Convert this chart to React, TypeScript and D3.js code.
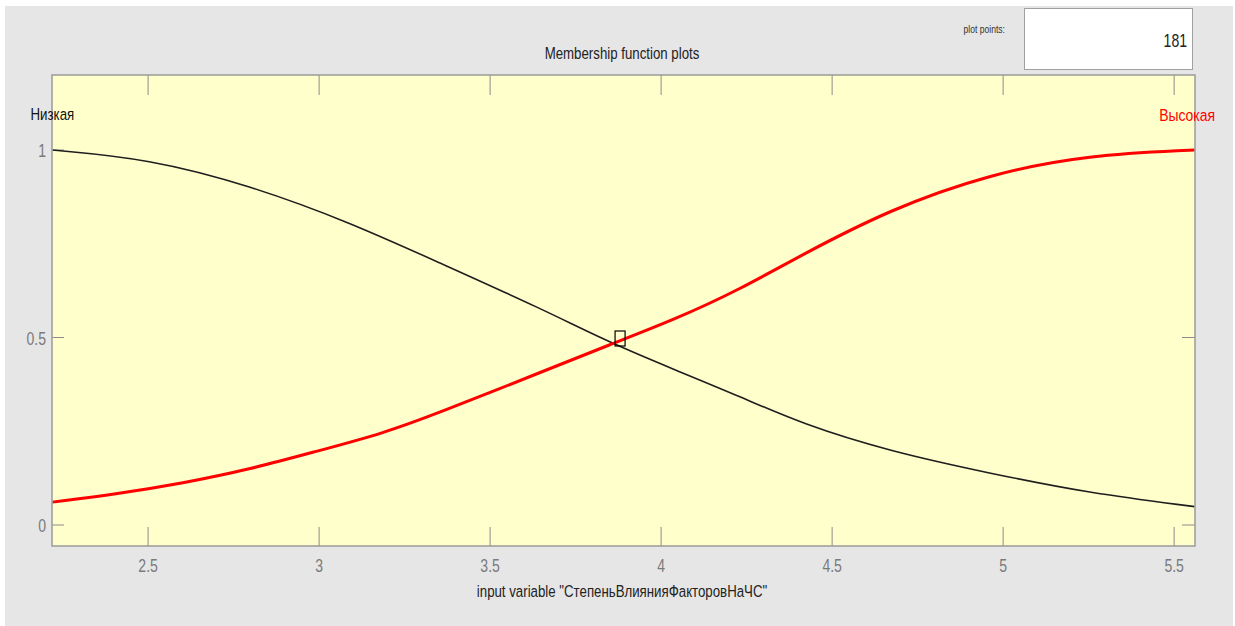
import * as d3 from 'd3';

// membership degrees, one x list per curve
const xLow = [2.22, 2.5, 2.8, 3.09, 3.35, 3.65, 3.85, 4.04, 4.23, 4.41, 4.67, 4.96, 5.25, 5.56];
const lowValues = [1.0, 0.977, 0.905, 0.807, 0.70, 0.577, 0.486, 0.414, 0.343, 0.27, 0.196, 0.138, 0.085, 0.049];
const xHigh = [2.22, 2.41, 2.6, 2.8, 2.99, 3.19, 3.35, 3.65, 3.85, 4.04, 4.23, 4.41, 4.67, 4.96, 5.25, 5.56];
const highValues = [0.061, 0.083, 0.111, 0.149, 0.196, 0.245, 0.299, 0.408, 0.481, 0.548, 0.628, 0.72, 0.842, 0.936, 0.987, 1.0];

const xTicks = [2.5, 3, 3.5, 4, 4.5, 5, 5.5];
const yTicks = [0, 0.5, 1];
const xDomain = [2.219, 5.561];
const yDomain = [-0.056, 1.2];

const mfNames = ['Низкая', 'Высокая'];
const crossPoint = { x: 3.88, y: 0.5 };
const plotPoints = '181';
const varName = 'СтепеньВлиянияФакторовНаЧС';

const W = 1235;
const H = 626;
const FONT = '"Liberation Sans", Arial, sans-serif';

// MATLAB's condensed Helvetica look: squeeze Liberation Sans horizontally
function NText({ x, y, size, anchor = 'start', fill = '#222', sx = 0.78, children }: any) {
    return (
        <text
            transform={`translate(${x},${y}) scale(${sx},1)`}
            fontSize={size}
            textAnchor={anchor}
            fill={fill}
        >
            {children}
        </text>
    );
}

export default function App() {
    const plot = { left: 52, top: 75, right: 1195, bottom: 546 };

    const x = d3.scaleLinear().domain(xDomain).range([plot.left, plot.right]);
    const y = d3.scaleLinear().domain(yDomain).range([plot.bottom, plot.top]);

    const lineFor = (xs: number[]) => d3.line<number>()
        .x((_, i) => x(xs[i]))
        .y(d => y(d))
        .curve(d3.curveBasis);

    const tickColor = '#8c8c8c';
    const labelColor = '#7a7a7a';

    return (
        <svg
            width={W}
            height={H}
            style={{ position: 'absolute', left: 0, top: 0, display: 'block' }}
            fontFamily={FONT}
        >
            <rect x={0} y={0} width={W} height={H} fill="#ffffff" />
            <rect x={5} y={6} width={1228} height={H - 6} fill="#e6e6e6" />

            {/* plot points box */}
            <NText x={1005} y={33} size={11} anchor="end" fill="#333">plot points:</NText>
            <rect x={1024.5} y={8.5} width={168} height={61} fill="#ffffff" stroke="#a0a0a0" strokeWidth={1} />
            <NText x={1187} y={47} size={18} anchor="end" fill="#222">{plotPoints}</NText>

            {/* title */}
            <NText x={622} y={59} size={17} anchor="middle" fill="#222">Membership function plots</NText>

            {/* axes background */}
            <rect
                x={plot.left}
                y={plot.top}
                width={plot.right - plot.left}
                height={plot.bottom - plot.top}
                fill="#ffffcc"
            />

            {/* ticks */}
            {xTicks.map(t => (
                <g key={'x' + t}>
                    <line x1={x(t)} x2={x(t)} y1={plot.bottom} y2={plot.bottom - 19} stroke={tickColor} strokeWidth={1} />
                    <line x1={x(t)} x2={x(t)} y1={plot.top} y2={plot.top + 20} stroke={tickColor} strokeWidth={1} />
                    <NText x={x(t)} y={572} size={18} anchor="middle" fill={labelColor}>{t}</NText>
                </g>
            ))}
            {yTicks.map(t => (
                <g key={'y' + t}>
                    <line x1={plot.left} x2={plot.left + 12} y1={y(t)} y2={y(t)} stroke={tickColor} strokeWidth={1} />
                    <line x1={plot.right - 13} x2={plot.right} y1={y(t)} y2={y(t)} stroke={tickColor} strokeWidth={1} />
                    <NText x={46} y={y(t) + 7} size={18} anchor="end" fill={labelColor}>{t}</NText>
                </g>
            ))}

            {/* membership functions */}
            <path d={lineFor(xLow)(lowValues) || ''} fill="none" stroke="#1e1e1e" strokeWidth={1.6} />
            <path d={lineFor(xHigh)(highValues) || ''} fill="none" stroke="#ff0000" strokeWidth={3} />

            <rect
                x={x(crossPoint.x) - 5}
                y={y(crossPoint.y) - 6.5}
                width={10}
                height={15}
                fill="none"
                stroke="#000"
                strokeWidth={1.2}
            />

            {/* axes frame */}
            <rect
                x={plot.left}
                y={plot.top}
                width={plot.right - plot.left}
                height={plot.bottom - plot.top}
                fill="none"
                stroke="#9a9a9a"
                strokeWidth={1.5}
            />

            {/* MF labels */}
            <NText x={x(xLow[0])} y={120} size={17} anchor="middle" fill="#111">{mfNames[0]}</NText>
            <NText x={1215} y={121} size={17} anchor="end" fill="#ff0000" sx={0.82}>{mfNames[1]}</NText>

            {/* x label */}
            <NText x={622} y={597} size={17} anchor="middle" fill="#222">
                {`input variable "${varName}"`}
            </NText>
        </svg>
    );
}
